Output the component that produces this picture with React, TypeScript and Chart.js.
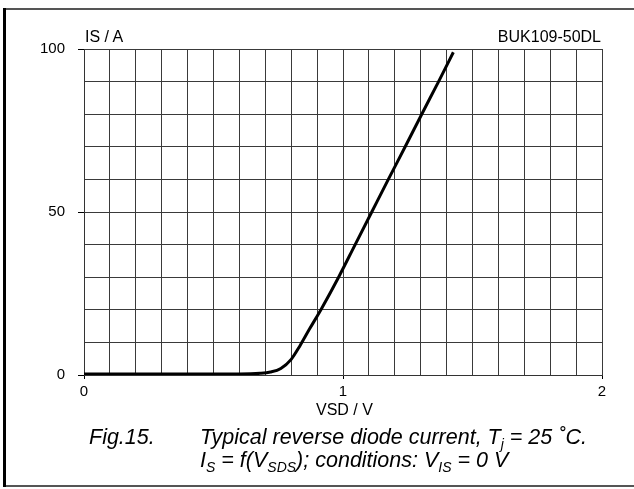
import React, { useEffect, useRef } from "react";
import { Chart, registerables } from "chart.js";

Chart.register(...registerables);

// Reverse diode forward voltage VSD (V) and current IS (A)
const vsd = [0, 0.3, 0.6, 0.68, 0.72, 0.76, 0.8, 0.834, 0.87, 0.918, 0.983, 1.047, 1.111, 1.175, 1.24, 1.304, 1.369, 1.426];
const isCurrent = [0.3, 0.3, 0.3, 0.5, 0.9, 2.0, 4.8, 9.0, 14, 20.5, 30, 40, 50, 60, 70, 80, 90, 99];

const xTickLabels = [0, 1, 2];
const yTickLabels = [0, 50, 100];

const FONT = "'Liberation Sans', Arial, Helvetica, sans-serif";

export default function App() {
  const ref = useRef<HTMLCanvasElement | null>(null);

  useEffect(() => {
    if (!ref.current) return;
    const isLabelX = (v: number) => xTickLabels.some((t) => Math.abs(t - v) < 1e-6);
    const isLabelY = (v: number) => yTickLabels.some((t) => Math.abs(t - v) < 1e-6);
    const chart = new Chart(ref.current, {
      type: "scatter",
      data: {
        datasets: [
          {
            data: vsd.map((x, i) => ({ x, y: isCurrent[i] })),
            showLine: true,
            borderColor: "#000",
            borderWidth: 3,
            pointRadius: 0,
            cubicInterpolationMode: "monotone",
            fill: false,
          },
        ],
      },
      options: {
        animation: false,
        responsive: false,
        maintainAspectRatio: false,
        layout: { padding: { left: 0, top: 49, right: 32, bottom: 0 } },
        plugins: { legend: { display: false }, tooltip: { enabled: false } },
        scales: {
          x: {
            type: "linear",
            min: 0,
            max: 2,
            afterFit: (s: any) => {
              s.height = 114;
            },
            border: { display: true, color: "#333", width: 1 },
            grid: {
              color: "#3a3a3a",
              lineWidth: 1,
              drawTicks: true,
              tickLength: 4,
              tickColor: (ctx: any) => (ctx.tick && isLabelX(ctx.tick.value) ? "#000" : "rgba(0,0,0,0)"),
            },
            ticks: {
              stepSize: 0.1,
              autoSkip: false,
              maxRotation: 0,
              padding: 4,
              color: "#000",
              font: { family: FONT, size: 15 },
              callback: (v: any) => {
                const n = Number(v);
                return isLabelX(n) ? String(Math.round(n)) : "";
              },
            },
          },
          y: {
            type: "linear",
            min: 0,
            max: 100,
            afterFit: (s: any) => {
              s.width = 84;
            },
            border: { display: true, color: "#333", width: 1 },
            grid: {
              color: "#3a3a3a",
              lineWidth: 1,
              drawTicks: true,
              tickLength: 6,
              tickColor: (ctx: any) => (ctx.tick && isLabelY(ctx.tick.value) ? "#000" : "rgba(0,0,0,0)"),
            },
            ticks: {
              stepSize: 10,
              autoSkip: false,
              padding: 13,
              color: "#000",
              font: { family: FONT, size: 15 },
              callback: (v: any) => {
                const n = Number(v);
                return isLabelY(n) ? String(Math.round(n)) : "";
              },
            },
          },
        },
      },
    } as any);
    return () => chart.destroy();
  }, []);

  const label: React.CSSProperties = {
    position: "absolute",
    fontFamily: FONT,
    fontSize: 16,
    color: "#000",
    lineHeight: "18px",
    whiteSpace: "nowrap",
  };
  const cap: React.CSSProperties = {
    position: "absolute",
    fontFamily: FONT,
    fontStyle: "italic",
    fontSize: 21.5,
    color: "#000",
    lineHeight: "23px",
    whiteSpace: "nowrap",
  };
  const sub: React.CSSProperties = { fontSize: 14, verticalAlign: "-5px", lineHeight: 0 };

  return (
    <div style={{ position: "fixed", left: 0, top: 0, width: 634, height: 489, background: "#fff", overflow: "hidden" }}>
      <canvas ref={ref} width={634} height={489} style={{ position: "absolute", left: 0, top: 0, width: 634, height: 489 }} />
      {/* frame */}
      <div style={{ position: "absolute", left: 3, top: 8, width: 631, height: 2, background: "#555" }} />
      <div style={{ position: "absolute", left: 3, top: 485, width: 631, height: 2, background: "#555" }} />
      <div style={{ position: "absolute", left: 3, top: 8, width: 3, height: 479, background: "#000" }} />
      {/* axis titles */}
      <div style={{ ...label, left: 85, top: 28 }}>IS / A</div>
      <div style={{ ...label, right: 33, top: 28 }}>BUK109-50DL</div>
      <div style={{ ...label, left: 316, top: 401 }}>VSD / V</div>
      {/* caption */}
      <div style={{ ...cap, left: 89, top: 426 }}>Fig.15.</div>
      <div style={{ ...cap, left: 200, top: 426 }}>
        Typical reverse diode current, T<span style={sub}>j</span> = 25 ˚C.
      </div>
      <div style={{ ...cap, left: 200, top: 449 }}>
        I<span style={sub}>S</span> = f(V<span style={sub}>SDS</span>); conditions: V<span style={sub}>IS</span> = 0 V
      </div>
    </div>
  );
}
